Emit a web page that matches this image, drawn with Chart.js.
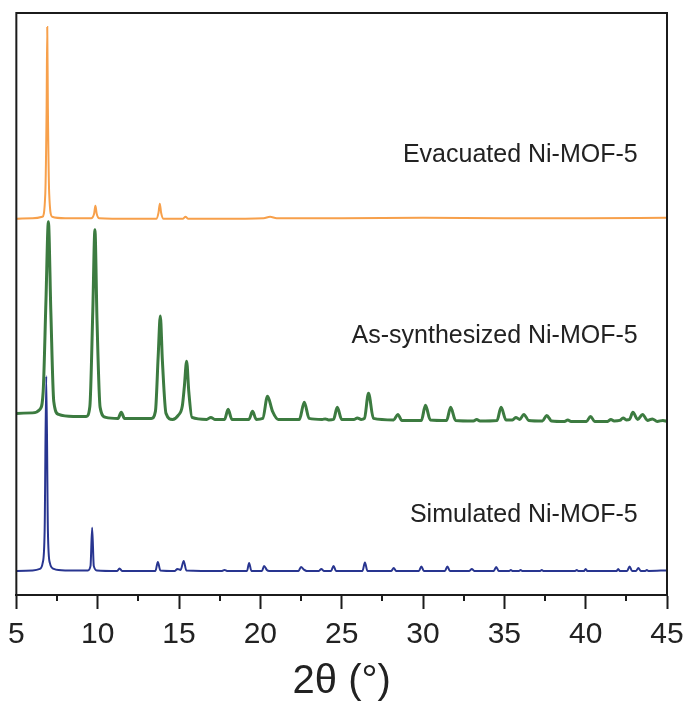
<!DOCTYPE html>
<html>
<head>
<meta charset="utf-8">
<script src="https://cdn.jsdelivr.net/npm/chart.js@4/dist/chart.umd.min.js"></script>
<style>
  body { margin: 0; background: #fff; }
  #wrap { width: 695px; height: 702px; }
</style>
</head>
<body>
<div id="wrap"><canvas id="xrd"></canvas></div>
<script>
// 2theta range and ticks
const xMin = 5, xMax = 45;
const majorStep = 5;
const minorTicks = [7.5, 12.5, 17.5, 22.5, 27.5, 32.5, 37.5, 42.5];

// series names, vertical offsets (stacking) and label heights
const seriesNames = ['Evacuated Ni-MOF-5', 'As-synthesized Ni-MOF-5', 'Simulated Ni-MOF-5'];
const offsets = [375, 173, 24];
const labelX = 43.2;
const labelY = [438, 258, 80];

// [2theta, intensity above baseline]
const evacuated = [
    [5, 0], [6.0, 0.5], [6.6, 2], [6.78, 25], [6.86, 110], [6.9, 191], [6.94, 110], [7.02, 25], [7.2, 2], [8.0, 0.5],
    [9.6, 0.5], [9.78, 5], [9.86, 13], [9.94, 5], [10.1, 0.5], [12.0, 0],
    [13.6, 0], [13.74, 6], [13.82, 15], [13.9, 6], [14.05, 0],
    [15.25, 0], [15.4, 2], [15.55, 0], [17.5, 0], [20.2, 0.5], [20.6, 2], [21.0, 0.5],
    [25, 0.5], [30, 1], [35, 0.5], [40, 0.5], [45, 1]
];

const asSynthesized = [
    [5, 8], [6.0, 8.5], [6.45, 12], [6.65, 30], [6.82, 120], [6.97, 199], [7.12, 110], [7.3, 20], [7.6, 7], [8.5, 5],
    [9.3, 5], [9.52, 15], [9.7, 110], [9.83, 191], [9.96, 100], [10.15, 14], [10.5, 4],
    [11.25, 3], [11.45, 9], [11.65, 3], [12.5, 3], [13.3, 3],
    [13.55, 10], [13.72, 65], [13.85, 105], [13.98, 60], [14.2, 8], [14.6, 2],
    [14.95, 6], [15.2, 15], [15.33, 35], [15.47, 60], [15.6, 30], [15.8, 4],
    [16.7, 2], [16.96, 4], [17.2, 2], [17.8, 2], [18.02, 12], [18.25, 2],
    [19.3, 2], [19.52, 10], [19.75, 2], [20.15, 3], [20.44, 25], [20.75, 10], [21.1, 2],
    [22.4, 2], [22.7, 19], [23.0, 3], [23.8, 2], [24.0, 2.5], [24.2, 1.5],
    [24.5, 2], [24.73, 14], [25.0, 2], [25.75, 2], [25.96, 3.5], [26.2, 2],
    [26.4, 3], [26.65, 28], [26.95, 3], [28.2, 1.5], [28.45, 7], [28.7, 1],
    [29.9, 1], [30.15, 16], [30.45, 1.5], [31.45, 1], [31.7, 14], [32.0, 1],
    [33.1, 0.5], [33.3, 2], [33.5, 0.5], [34.55, 1], [34.8, 14], [35.1, 1.5],
    [35.5, 1.5], [35.7, 4], [35.95, 2], [36.2, 7], [36.5, 1],
    [37.35, 0.5], [37.6, 6], [37.9, 0.5], [38.7, 0], [38.9, 1.5], [39.1, 0],
    [40.05, 0], [40.3, 5], [40.55, 0], [41.35, 0], [41.55, 2], [41.75, 0.5],
    [42.1, 1], [42.3, 3.5], [42.5, 1.5], [42.7, 2], [42.9, 9], [43.2, 2],
    [43.5, 7], [43.8, 1], [44.1, 2.5], [44.4, 0], [44.75, 1], [45, 0]
];

const simulated = [
    [5, 0], [6.0, 0.5], [6.45, 2], [6.62, 8], [6.74, 40], [6.84, 194], [6.94, 40], [7.06, 8], [7.3, 2], [8.0, 0.5],
    [9.4, 0.5], [9.56, 5], [9.66, 43], [9.76, 5], [9.95, 0.5],
    [11.2, 0], [11.34, 2.5], [11.5, 0], [13.55, 0], [13.7, 9], [13.85, 0.5],
    [14.75, 0], [14.9, 2], [15.1, 1], [15.29, 10], [15.45, 0.5],
    [17.65, 0], [17.8, 1], [17.95, 0], [19.18, 0], [19.31, 8], [19.45, 0],
    [20.1, 0], [20.23, 5], [20.4, 1], [20.55, 0], [22.35, 0], [22.5, 4], [22.7, 1], [22.85, 0],
    [23.6, 0], [23.75, 2], [23.9, 0], [24.35, 0], [24.5, 5], [24.65, 0],
    [26.28, 0], [26.43, 8.5], [26.58, 0], [28.05, 0], [28.2, 3], [28.35, 0],
    [29.75, 0], [29.9, 4.5], [30.05, 0], [31.35, 0], [31.5, 4.5], [31.65, 0],
    [32.85, 0], [33.0, 2], [33.15, 0], [34.35, 0], [34.5, 4], [34.65, 0],
    [35.3, 0], [35.4, 1], [35.5, 0], [35.9, 0], [36.0, 1], [36.1, 0],
    [37.2, 0], [37.3, 1], [37.4, 0], [39.35, 0], [39.45, 1], [39.55, 0],
    [39.9, 0], [40.0, 2], [40.1, 0], [41.9, 0], [42.0, 2], [42.1, 0],
    [42.55, 0], [42.7, 4.5], [42.85, 0], [43.1, 0], [43.24, 3], [43.38, 0],
    [43.66, 0], [43.76, 1], [43.86, 0], [45, 0.5]
];

const seriesData = [evacuated, asSynthesized, simulated];
const colors = ['#f7a04b', '#3c7b40', '#283590'];
const widths = [2, 3, 2];

const axisColor = '#1b1b1b';
const fontFamily = '"Liberation Sans", Arial, sans-serif';

const datasets = seriesData.map((pts, i) => ({
    label: seriesNames[i],
    data: pts.map(p => ({ x: p[0], y: p[1] + offsets[i] })),
    borderColor: colors[i],
    borderWidth: widths[i],
    pointRadius: 0,
    cubicInterpolationMode: 'monotone',
    fill: false
}));

// frame, minor ticks and series labels
const decorations = {
    id: 'decorations',
    afterDraw(chart) {
        const ctx = chart.ctx;
        const area = chart.chartArea;
        const x = chart.scales.x;
        const y = chart.scales.y;
        ctx.save();
        ctx.strokeStyle = axisColor;
        ctx.lineWidth = 2;
        ctx.strokeRect(area.left, area.top, area.right - area.left, area.bottom - area.top);

        ctx.beginPath();
        minorTicks.forEach(v => {
            const px = Math.round(x.getPixelForValue(v));
            ctx.moveTo(px, area.bottom);
            ctx.lineTo(px, area.bottom + 6);
        });
        ctx.stroke();

        ctx.fillStyle = '#222';
        ctx.font = '25px ' + fontFamily;
        ctx.textAlign = 'right';
        ctx.textBaseline = 'middle';
        seriesNames.forEach((name, i) => {
            ctx.fillText(name, x.getPixelForValue(labelX), y.getPixelForValue(labelY[i]));
        });
        ctx.restore();
    }
};

new Chart(document.getElementById('xrd'), {
    type: 'line',
    data: { datasets: datasets },
    options: {
        responsive: true,
        maintainAspectRatio: false,
        animation: false,
        layout: { padding: { left: 15, right: 28, top: 13, bottom: 0 } },
        plugins: {
            legend: { display: false },
            tooltip: { enabled: false }
        },
        scales: {
            x: {
                type: 'linear',
                min: xMin,
                max: xMax,
                border: { display: true, color: axisColor, width: 2 },
                grid: {
                    drawOnChartArea: false,
                    drawTicks: true,
                    tickLength: 14,
                    tickWidth: 2,
                    tickColor: axisColor
                },
                ticks: {
                    stepSize: majorStep,
                    maxRotation: 0,
                    autoSkip: false,
                    padding: 8,
                    color: '#222',
                    font: { family: fontFamily, size: 30 }
                },
                title: {
                    display: true,
                    text: '2θ (°)',
                    color: '#222',
                    padding: { top: 1, bottom: 0 },
                    font: { family: fontFamily, size: 40, lineHeight: 1.0 }
                }
            },
            y: {
                display: false,
                min: 0,
                max: 580
            }
        }
    },
    plugins: [decorations]
});
</script>
</body>
</html>
